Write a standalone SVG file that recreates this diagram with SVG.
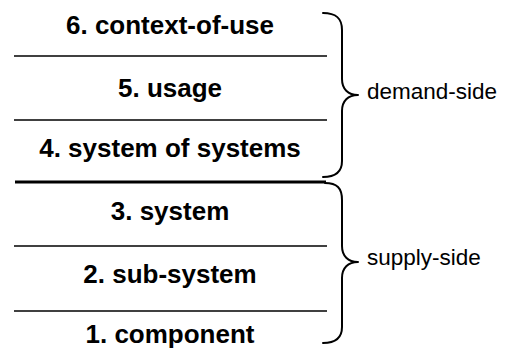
<svg xmlns="http://www.w3.org/2000/svg" width="505" height="349" viewBox="0 0 505 349">
  <style>
    .layer { font-family: "Liberation Sans", Arial, sans-serif; font-weight: bold; font-size: 26px; fill: #000; text-anchor: middle; }
    .side { font-family: "Liberation Sans", Arial, sans-serif; font-size: 22.5px; fill: #000; }
    .sep { stroke: #000; stroke-width: 1.5; }
    .sep-main { stroke: #000; stroke-width: 3; }
    .brace { fill: none; stroke: #000; stroke-width: 2; stroke-linecap: round; stroke-linejoin: round; }
  </style>

  <rect width="505" height="349" fill="#fff"/>

  <!-- layers, top to bottom -->
  <g id="layer-6"><text class="layer" x="170" y="34">6. context-of-use</text></g>
  <g id="layer-5"><text class="layer" x="170" y="97">5. usage</text></g>
  <g id="layer-4"><text class="layer" x="170" y="157">4. system of systems</text></g>
  <g id="layer-3"><text class="layer" x="170" y="220">3. system</text></g>
  <g id="layer-2"><text class="layer" x="170" y="283">2. sub-system</text></g>
  <g id="layer-1"><text class="layer" x="170" y="343">1. component</text></g>

  <!-- separators between layers; the heavy one splits demand from supply -->
  <g id="separators">
    <line class="sep" x1="14" y1="56" x2="327" y2="56"/>
    <line class="sep" x1="14" y1="120" x2="327" y2="120"/>
    <line class="sep-main" x1="15" y1="182" x2="326" y2="182"/>
    <line class="sep" x1="14" y1="246" x2="327" y2="246"/>
    <line class="sep" x1="14" y1="311" x2="327" y2="311"/>
  </g>

  <!-- grouping braces -->
  <g id="connectors">
    <path class="brace" d="M323,13 C336,13 342,18 342,30 L342,79 C342,89 348,95 358,95 C348,95 342,101 342,111 L342,161 C342,172 336,177 323,177"/>
    <path class="brace" d="M325,183 C337,183 342,188 342,200 L342,246 C342,256 348,262 358,262 C348,262 342,268 342,278 L342,327 C342,338 336,343 323,343"/>
  </g>

  <g id="demand-side"><text class="side" x="367" y="99">demand-side</text></g>
  <g id="supply-side"><text class="side" x="367" y="265">supply-side</text></g>
</svg>
